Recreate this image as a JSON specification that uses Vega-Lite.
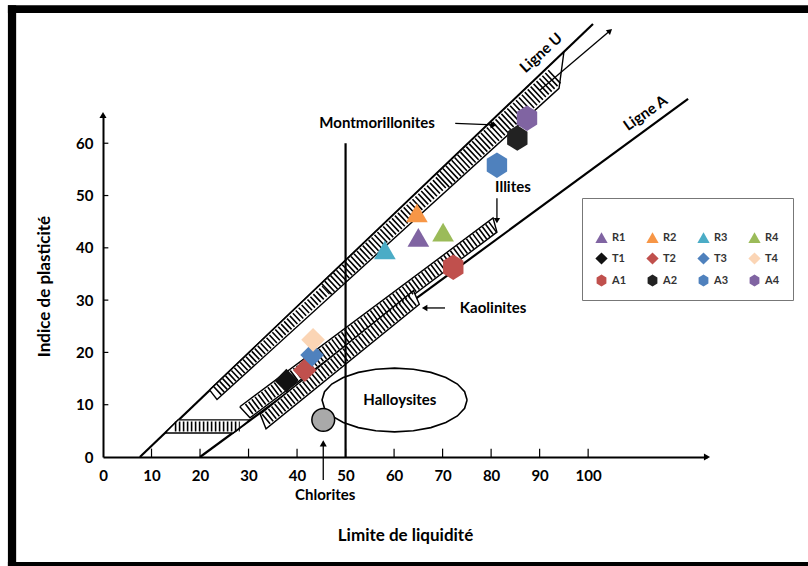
{
  "$schema": "https://vega.github.io/schema/vega-lite/v6.json",
  "width": 604,
  "height": 342,
  "autosize": {"type": "none"},
  "padding": {"left": 103, "top": 115, "right": 101, "bottom": 109},
  "background": "white",
  "config": {"view": {"stroke": null}, "font": "Lato"},
  "datasets": {
    "frame": [
      {"x": -19.6, "x2": -17.9, "y": 86.4, "y2": -21},
      {"x": -19.6, "x2": 146, "y": 86.4, "y2": 84.9},
      {"x": -19.6, "x2": 146, "y": -20.1, "y2": -21}
    ],
    "xticks": [{"x": 10}, {"x": 20}, {"x": 30}, {"x": 40}, {"x": 50}, {"x": 60}, {"x": 70}, {"x": 80}, {"x": 90}, {"x": 100}],
    "yticks": [{"y": 10}, {"y": 20}, {"y": 30}, {"y": 40}, {"y": 50}, {"y": 60}],
    "polys": [
      {"g": "mont", "o": 1, "x": 22, "y": 12.8}, {"g": "mont", "o": 2, "x": 95, "y": 77.4}, {"g": "mont", "o": 3, "x": 94, "y": 70.5}, {"g": "mont", "o": 4, "x": 23.5, "y": 11.0}, {"g": "mont", "o": 5, "x": 22, "y": 12.8},
      {"g": "ml", "o": 1, "x": 12.8, "y": 4.6}, {"g": "ml", "o": 2, "x": 15.5, "y": 7.1}, {"g": "ml", "o": 3, "x": 30.3, "y": 7.1}, {"g": "ml", "o": 4, "x": 26.8, "y": 4.6}, {"g": "ml", "o": 5, "x": 12.8, "y": 4.6},
      {"g": "illite", "o": 1, "x": 28.2, "y": 9.6}, {"g": "illite", "o": 2, "x": 80.4, "y": 45.7}, {"g": "illite", "o": 3, "x": 81.2, "y": 43.0}, {"g": "illite", "o": 4, "x": 30.3, "y": 7.5}, {"g": "illite", "o": 5, "x": 28.2, "y": 9.6},
      {"g": "kaol", "o": 1, "x": 32.4, "y": 8.2}, {"g": "kaol", "o": 2, "x": 64, "y": 31.8}, {"g": "kaol", "o": 3, "x": 65.2, "y": 29.2}, {"g": "kaol", "o": 4, "x": 33.6, "y": 5.4}, {"g": "kaol", "o": 5, "x": 32.4, "y": 8.2}
    ],
    "hatch": [
      {"g": "mont1", "x": 23.5, "y": 12.55}, {"g": "mont1", "x": 46, "y": 32.0},
      {"g": "mont2", "x": 46, "y": 32.0}, {"g": "mont2", "x": 70, "y": 52.77},
      {"g": "mont3", "x": 70, "y": 52.77}, {"g": "mont3", "x": 93.5, "y": 73.1},
      {"g": "ill", "x": 30, "y": 9.07}, {"g": "ill", "x": 80.5, "y": 44.15},
      {"g": "kaol", "x": 33.5, "y": 7.17}, {"g": "kaol", "x": 64, "y": 30.05},
      {"g": "ml", "x": 14.8, "y": 5.85}, {"g": "ml", "x": 28.2, "y": 5.85}
    ],
    "mainlines": [
      {"g": "U", "x": 7.6, "y": 0}, {"g": "U", "x": 101, "y": 82.8},
      {"g": "A", "x": 20, "y": 0}, {"g": "A", "x": 120.6, "y": 68.5}
    ],
    "vline": [{"x": 50, "y": 0}, {"x": 50, "y": 60}],
    "arrows": [
      {"g": "u", "x": 90.1, "y": 70.2}, {"g": "u", "x": 104.5, "y": 81.5},
      {"g": "m", "x": 72.6, "y": 63.8}, {"g": "m", "x": 80.5, "y": 63.5},
      {"g": "i", "x": 81.2, "y": 49.5}, {"g": "i", "x": 81.2, "y": 45.2},
      {"g": "k", "x": 70.5, "y": 28.5}, {"g": "k", "x": 66.3, "y": 28.5},
      {"g": "c", "x": 45.4, "y": -4.4}, {"g": "c", "x": 45.4, "y": 2.6}
    ],
    "heads_right": [{"x": 124.5, "y": 0}, {"x": 80.5, "y": 63.5}],
    "heads_up": [{"x": 0, "y": 65.4}, {"x": 45.4, "y": 2.6}],
    "heads_down": [{"x": 81.2, "y": 45.2}],
    "heads_left": [{"x": 66.3, "y": 28.5}],
    "heads_diag": [{"x": 104.5, "y": 81.5}],
    "ellipse": [
      {"o": 0, "x": 75.05, "y": 10.9}, {"o": 1, "x": 74.54, "y": 12.48}, {"o": 2, "x": 73.05, "y": 13.95}, {"o": 3, "x": 70.67, "y": 15.21},
      {"o": 4, "x": 67.58, "y": 16.18}, {"o": 5, "x": 63.97, "y": 16.79}, {"o": 6, "x": 60.1, "y": 17.0}, {"o": 7, "x": 56.23, "y": 16.79},
      {"o": 8, "x": 52.63, "y": 16.18}, {"o": 9, "x": 49.53, "y": 15.21}, {"o": 10, "x": 47.15, "y": 13.95}, {"o": 11, "x": 45.66, "y": 12.48},
      {"o": 12, "x": 45.15, "y": 10.9}, {"o": 13, "x": 45.66, "y": 9.32}, {"o": 14, "x": 47.15, "y": 7.85}, {"o": 15, "x": 49.53, "y": 6.59},
      {"o": 16, "x": 52.63, "y": 5.62}, {"o": 17, "x": 56.23, "y": 5.01}, {"o": 18, "x": 60.1, "y": 4.8}, {"o": 19, "x": 63.97, "y": 5.01},
      {"o": 20, "x": 67.58, "y": 5.62}, {"o": 21, "x": 70.67, "y": 6.59}, {"o": 22, "x": 73.05, "y": 7.85}, {"o": 23, "x": 74.54, "y": 9.32},
      {"o": 24, "x": 75.05, "y": 10.9}
    ],
    "chlorite": [{"x": 45.4, "y": 7.1}],
    "labels": [
      {"t": "Montmorillonites", "x": 56.5, "y": 63.9},
      {"t": "Illites", "x": 84.5, "y": 51.6},
      {"t": "Kaolinites", "x": 80.4, "y": 28.5},
      {"t": "Halloysites", "x": 61.2, "y": 10.9},
      {"t": "Chlorites", "x": 45.8, "y": -7.3}
    ],
    "labelU": [{"t": "Ligne U", "x": 90.3, "y": 77.3}],
    "labelA": [{"t": "Ligne A", "x": 111.8, "y": 65.8}],
    "samples": [
      {"name": "R1", "x": 65.0, "y": 42.0},
      {"name": "R2", "x": 64.7, "y": 46.7},
      {"name": "R3", "x": 58.1, "y": 39.6},
      {"name": "R4", "x": 70.1, "y": 43.0},
      {"name": "T1", "x": 37.8, "y": 14.6},
      {"name": "T2", "x": 41.6, "y": 16.6},
      {"name": "T3", "x": 43.1, "y": 19.5},
      {"name": "T4", "x": 43.3, "y": 22.4},
      {"name": "A1", "x": 72.2, "y": 36.3},
      {"name": "A2", "x": 85.4, "y": 61.0},
      {"name": "A3", "x": 81.2, "y": 55.8},
      {"name": "A4", "x": 87.4, "y": 64.8}
    ]
  },
  "layer": [
    {
      "data": {"name": "frame"},
      "mark": {"type": "rect", "fill": "black"},
      "encoding": {
        "x": {"field": "x", "type": "quantitative", "scale": {"domain": [0, 124.5], "nice": false, "zero": false},
          "axis": {"values": [0, 10, 20, 30, 40, 50, 60, 70, 80, 90, 100], "grid": false, "domainColor": "black", "domainWidth": 2,
            "ticks": false, "labelFontSize": 15, "labelFontWeight": "bold", "labelColor": "black",
            "labelPadding": 11, "labelFlush": false, "title": "Limite de liquidité", "titleFontSize": 17, "titleFontWeight": "bold", "titleColor": "black", "titlePadding": 44}},
        "x2": {"field": "x2"},
        "y": {"field": "y", "type": "quantitative", "scale": {"domain": [0, 65.4], "nice": false, "zero": false},
          "axis": {"values": [0, 10, 20, 30, 40, 50, 60], "grid": false, "domainColor": "black", "domainWidth": 2,
            "ticks": false, "labelFontSize": 15, "labelFontWeight": "bold", "labelColor": "black",
            "labelPadding": 10, "labelFlush": false, "title": "Indice de plasticité", "titleFontSize": 17, "titleFontWeight": "bold", "titleColor": "black", "titlePadding": 22}},
        "y2": {"field": "y2"}
      }
    },
    {
      "data": {"name": "xticks"},
      "mark": {"type": "rule", "stroke": "black", "strokeWidth": 1.2},
      "encoding": {"x": {"field": "x", "type": "quantitative"}, "y": {"datum": 0}, "y2": {"datum": 1.6}}
    },
    {
      "data": {"name": "yticks"},
      "mark": {"type": "rule", "stroke": "black", "strokeWidth": 1.2},
      "encoding": {"y": {"field": "y", "type": "quantitative"}, "x": {"datum": 0}, "x2": {"datum": 1.1}}
    },
    {
      "data": {"name": "mainlines"},
      "mark": {"type": "line", "stroke": "black", "strokeWidth": 2.2},
      "encoding": {
        "x": {"field": "x", "type": "quantitative"},
        "y": {"field": "y", "type": "quantitative"},
        "detail": {"field": "g"}
      }
    },
    {
      "data": {"name": "polys"},
      "mark": {"type": "line", "fill": "white", "stroke": "black", "strokeWidth": 1.4},
      "encoding": {
        "x": {"field": "x", "type": "quantitative"},
        "y": {"field": "y", "type": "quantitative"},
        "detail": {"field": "g"},
        "order": {"field": "o", "type": "quantitative"}
      }
    },
    {
      "data": {"name": "hatch"},
      "transform": [{"filter": "datum.g == 'mont1'"}],
      "mark": {"type": "line", "stroke": "black", "strokeWidth": 11, "strokeDash": [1.6, 2.4], "strokeCap": "butt"},
      "encoding": {"x": {"field": "x", "type": "quantitative"}, "y": {"field": "y", "type": "quantitative"}}
    },
    {
      "data": {"name": "hatch"},
      "transform": [{"filter": "datum.g == 'mont2'"}],
      "mark": {"type": "line", "stroke": "black", "strokeWidth": 14.5, "strokeDash": [1.6, 2.4], "strokeCap": "butt"},
      "encoding": {"x": {"field": "x", "type": "quantitative"}, "y": {"field": "y", "type": "quantitative"}}
    },
    {
      "data": {"name": "hatch"},
      "transform": [{"filter": "datum.g == 'mont3'"}],
      "mark": {"type": "line", "stroke": "black", "strokeWidth": 18, "strokeDash": [1.6, 2.4], "strokeCap": "butt"},
      "encoding": {"x": {"field": "x", "type": "quantitative"}, "y": {"field": "y", "type": "quantitative"}}
    },
    {
      "data": {"name": "hatch"},
      "transform": [{"filter": "datum.g == 'ill' || datum.g == 'kaol'"}],
      "mark": {"type": "line", "stroke": "black", "strokeWidth": 12.5, "strokeDash": [1.6, 2.4], "strokeCap": "butt"},
      "encoding": {"x": {"field": "x", "type": "quantitative"}, "y": {"field": "y", "type": "quantitative"}, "detail": {"field": "g"}}
    },
    {
      "data": {"name": "hatch"},
      "transform": [{"filter": "datum.g == 'ml'"}],
      "mark": {"type": "line", "stroke": "black", "strokeWidth": 10, "strokeDash": [1.6, 2.4], "strokeCap": "butt"},
      "encoding": {"x": {"field": "x", "type": "quantitative"}, "y": {"field": "y", "type": "quantitative"}}
    },
    {
      "data": {"name": "vline"},
      "mark": {"type": "line", "stroke": "black", "strokeWidth": 2.2},
      "encoding": {"x": {"field": "x", "type": "quantitative"}, "y": {"field": "y", "type": "quantitative"}}
    },
    {
      "data": {"name": "arrows"},
      "mark": {"type": "line", "stroke": "black", "strokeWidth": 1.3},
      "encoding": {
        "x": {"field": "x", "type": "quantitative"},
        "y": {"field": "y", "type": "quantitative"},
        "detail": {"field": "g"}
      }
    },
    {
      "data": {"name": "heads_right"},
      "mark": {"type": "point", "shape": "triangle-right", "filled": true, "color": "black", "size": 50, "opacity": 1},
      "encoding": {"x": {"field": "x", "type": "quantitative"}, "y": {"field": "y", "type": "quantitative"}}
    },
    {
      "data": {"name": "heads_up"},
      "mark": {"type": "point", "shape": "triangle-up", "filled": true, "color": "black", "size": 50, "opacity": 1},
      "encoding": {"x": {"field": "x", "type": "quantitative"}, "y": {"field": "y", "type": "quantitative"}}
    },
    {
      "data": {"name": "heads_down"},
      "mark": {"type": "point", "shape": "triangle-down", "filled": true, "color": "black", "size": 40, "opacity": 1},
      "encoding": {"x": {"field": "x", "type": "quantitative"}, "y": {"field": "y", "type": "quantitative"}}
    },
    {
      "data": {"name": "heads_left"},
      "mark": {"type": "point", "shape": "triangle-left", "filled": true, "color": "black", "size": 40, "opacity": 1},
      "encoding": {"x": {"field": "x", "type": "quantitative"}, "y": {"field": "y", "type": "quantitative"}}
    },
    {
      "data": {"name": "heads_diag"},
      "mark": {"type": "point", "shape": "triangle-up", "angle": 49, "filled": true, "color": "black", "size": 40, "opacity": 1},
      "encoding": {"x": {"field": "x", "type": "quantitative"}, "y": {"field": "y", "type": "quantitative"}}
    },
    {
      "data": {"name": "ellipse"},
      "mark": {"type": "line", "stroke": "black", "strokeWidth": 1.6},
      "encoding": {
        "x": {"field": "x", "type": "quantitative"},
        "y": {"field": "y", "type": "quantitative"},
        "order": {"field": "o", "type": "quantitative"}
      }
    },
    {
      "data": {"name": "chlorite"},
      "mark": {"type": "point", "shape": "circle", "filled": true, "fill": "#a9a9a9", "stroke": "black", "strokeWidth": 1.5, "size": 520, "opacity": 1},
      "encoding": {"x": {"field": "x", "type": "quantitative"}, "y": {"field": "y", "type": "quantitative"}}
    },
    {
      "data": {"name": "labels"},
      "mark": {"type": "text", "font": "Lato", "fontSize": 15, "fontWeight": "bold", "color": "black", "align": "center", "baseline": "middle"},
      "encoding": {"x": {"field": "x", "type": "quantitative"}, "y": {"field": "y", "type": "quantitative"}, "text": {"field": "t"}}
    },
    {
      "data": {"name": "labelU"},
      "mark": {"type": "text", "font": "Lato", "fontSize": 15, "fontWeight": "bold", "color": "black", "align": "center", "baseline": "middle", "angle": -42},
      "encoding": {"x": {"field": "x", "type": "quantitative"}, "y": {"field": "y", "type": "quantitative"}, "text": {"field": "t"}}
    },
    {
      "data": {"name": "labelA"},
      "mark": {"type": "text", "font": "Lato", "fontSize": 15, "fontWeight": "bold", "color": "black", "align": "center", "baseline": "middle", "angle": -35},
      "encoding": {"x": {"field": "x", "type": "quantitative"}, "y": {"field": "y", "type": "quantitative"}, "text": {"field": "t"}}
    },
    {
      "data": {"name": "samples"},
      "transform": [{"filter": "datum.name[0] == 'R'"}],
      "mark": {"type": "point", "filled": true, "opacity": 1, "size": 470},
      "encoding": {
        "x": {"field": "x", "type": "quantitative"},
        "y": {"field": "y", "type": "quantitative"},
        "color": {"field": "name", "type": "nominal",
          "scale": {"domain": ["R1", "R2", "R3", "R4", "T1", "T2", "T3", "T4", "A1", "A2", "A3", "A4"],
            "range": ["#8064A2", "#F79646", "#4BACC6", "#9BBB59", "#111111", "#C0504D", "#4F81BD", "#FBD5B5", "#C0504D", "#222222", "#4F81BD", "#8064A2"]},
          "legend": {"orient": "none", "legendX": 479, "legendY": 83, "columns": 4, "direction": "horizontal", "title": " ", "titleFontSize": 14, "titlePadding": 6, "symbolSize": 150,
            "labelFontSize": 11, "labelFont": "Lato", "labelFontWeight": "bold", "labelColor": "#333", "strokeColor": "#777", "padding": 13,
            "rowPadding": 9, "columnPadding": 19, "symbolStrokeWidth": 0, "symbolOpacity": 1}},
        "shape": {"field": "name", "type": "nominal",
          "scale": {"domain": ["R1", "R2", "R3", "R4", "T1", "T2", "T3", "T4", "A1", "A2", "A3", "A4"],
            "range": ["triangle-up", "triangle-up", "triangle-up", "triangle-up", "diamond", "diamond", "diamond", "diamond",
              "M0,-1L0.8,-0.5L0.8,0.5L0,1L-0.8,0.5L-0.8,-0.5Z", "M0,-1L0.8,-0.5L0.8,0.5L0,1L-0.8,0.5L-0.8,-0.5Z", "M0,-1L0.8,-0.5L0.8,0.5L0,1L-0.8,0.5L-0.8,-0.5Z", "M0,-1L0.8,-0.5L0.8,0.5L0,1L-0.8,0.5L-0.8,-0.5Z"]},
          "legend": {"orient": "none", "legendX": 479, "legendY": 83, "columns": 4, "direction": "horizontal", "title": " ", "titleFontSize": 14, "titlePadding": 6, "symbolSize": 150,
            "labelFontSize": 11, "labelFont": "Lato", "labelFontWeight": "bold", "labelColor": "#333", "strokeColor": "#777", "padding": 13,
            "rowPadding": 9, "columnPadding": 19, "symbolStrokeWidth": 0, "symbolOpacity": 1}}
      }
    },
    {
      "data": {"name": "samples"},
      "transform": [{"filter": "datum.name[0] == 'T'"}],
      "mark": {"type": "point", "filled": true, "opacity": 1, "size": 560},
      "encoding": {
        "x": {"field": "x", "type": "quantitative"},
        "y": {"field": "y", "type": "quantitative"},
        "color": {"field": "name", "type": "nominal"},
        "shape": {"field": "name", "type": "nominal"}
      }
    },
    {
      "data": {"name": "samples"},
      "transform": [{"filter": "datum.name[0] == 'A'"}],
      "mark": {"type": "point", "filled": true, "opacity": 1, "size": 650},
      "encoding": {
        "x": {"field": "x", "type": "quantitative"},
        "y": {"field": "y", "type": "quantitative"},
        "color": {"field": "name", "type": "nominal"},
        "shape": {"field": "name", "type": "nominal"}
      }
    }
  ]
}
